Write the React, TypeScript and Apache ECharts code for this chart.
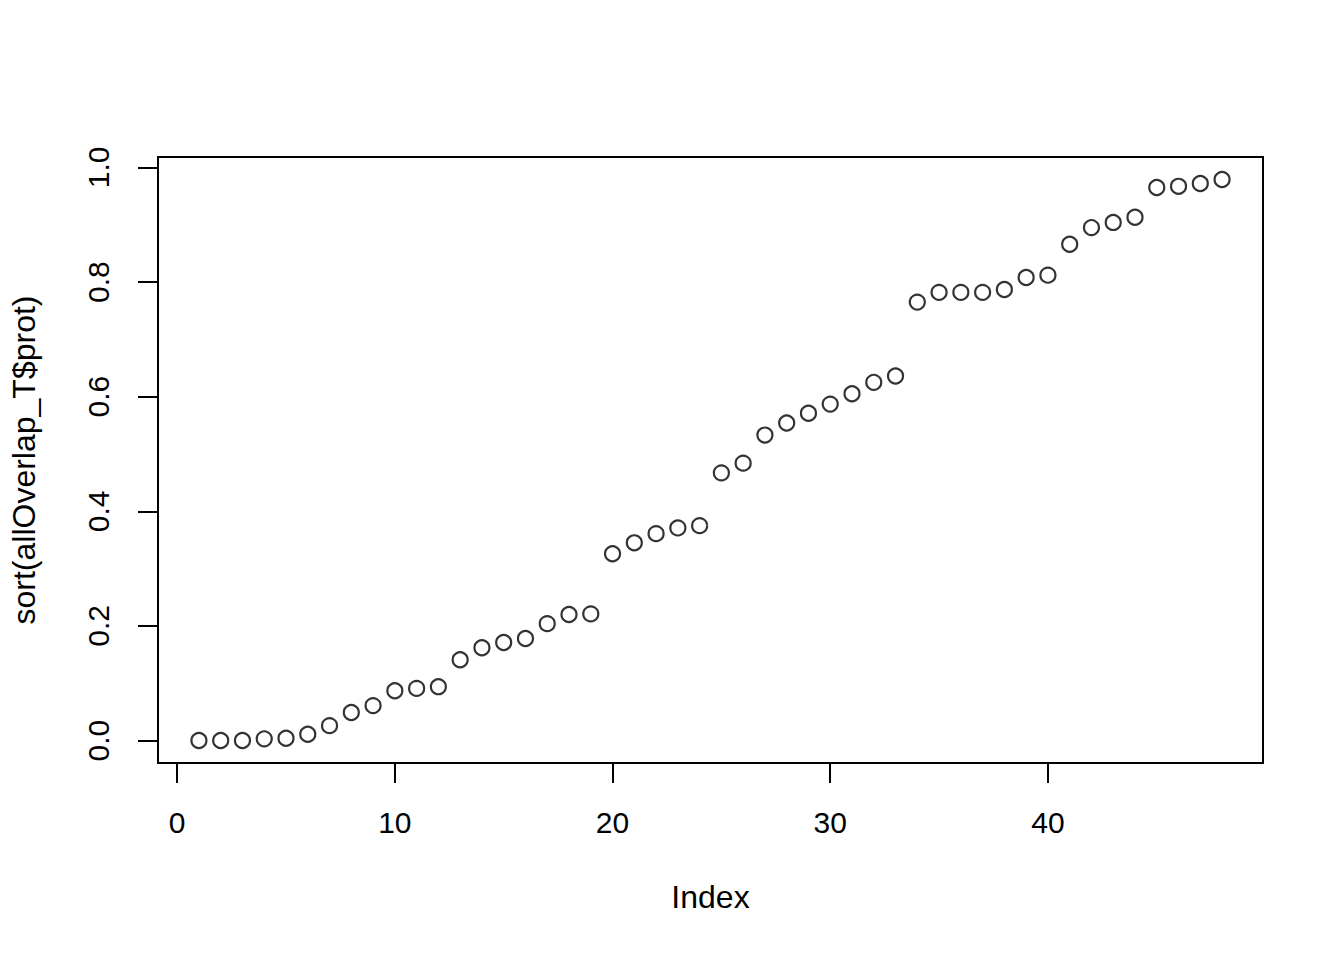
import React, { useEffect, useRef } from "react";
import * as echarts from "echarts";

const indexValues: number[] = Array.from({ length: 48 }, (_, i) => i + 1);
const protValues: number[] = [
  0.0, 0.0, 0.0, 0.003, 0.004, 0.011, 0.026, 0.049, 0.061, 0.087,
  0.091, 0.094, 0.141, 0.162, 0.171, 0.178, 0.204, 0.22, 0.221, 0.326,
  0.345, 0.361, 0.371, 0.375, 0.467, 0.484, 0.533, 0.554, 0.571, 0.587,
  0.605, 0.625, 0.636, 0.765, 0.782, 0.782, 0.782, 0.787, 0.808, 0.812,
  0.866, 0.895, 0.904, 0.913, 0.965, 0.967, 0.972, 0.979,
];
const xTicks: number[] = [0, 10, 20, 30, 40];
const yTicks: number[] = [0, 0.2, 0.4, 0.6, 0.8, 1.0];
const xTitle = "Index";
const yTitle = "sort(allOverlap_T$prot)";

const FONT = "'Liberation Sans', Arial, Helvetica, sans-serif";

function padRange(vals: number[]) {
  const lo = Math.min(...vals);
  const hi = Math.max(...vals);
  const p = (hi - lo) * 0.04;
  return [lo - p, hi + p];
}

export default function App() {
  const ref = useRef<HTMLDivElement>(null);
  useEffect(() => {
    if (!ref.current) return;
    const chart = echarts.init(ref.current, undefined, { renderer: "svg" });
    const [xMin, xMax] = padRange(indexValues);
    const [yMin, yMax] = padRange(protValues);
    chart.setOption({
      animation: false,
      backgroundColor: "#ffffff",
      grid: {
        left: 158,
        top: 157,
        right: 81,
        bottom: 197,
        show: true,
        borderColor: "#000",
        borderWidth: 2,
        backgroundColor: "transparent",
      },
      xAxis: {
        type: "value",
        min: xMin,
        max: xMax,
        name: xTitle,
        nameLocation: "middle",
        nameGap: 118,
        nameTextStyle: { fontFamily: FONT, fontSize: 32, color: "#000" },
        axisLine: { show: true, onZero: false, lineStyle: { color: "#000", width: 2 } },
        axisTick: {
          show: true,
          inside: false,
          length: 20,
          lineStyle: { color: "#000", width: 2 },
          customValues: xTicks,
        },
        axisLabel: {
          show: true,
          margin: 44,
          fontFamily: FONT,
          fontSize: 30,
          color: "#000",
          customValues: xTicks,
          formatter: (v: number) => String(Math.round(v)),
        },
        splitLine: { show: false },
      },
      yAxis: {
        type: "value",
        min: yMin,
        max: yMax,
        name: yTitle,
        nameLocation: "middle",
        nameGap: 118,
        nameRotate: 90,
        nameTextStyle: { fontFamily: FONT, fontSize: 32, color: "#000" },
        axisLine: { show: true, onZero: false, lineStyle: { color: "#000", width: 2 } },
        axisTick: {
          show: true,
          inside: false,
          length: 20,
          lineStyle: { color: "#000", width: 2 },
          customValues: yTicks,
        },
        axisLabel: {
          show: true,
          margin: 45,
          rotate: 90,
          fontFamily: FONT,
          fontSize: 30,
          color: "#000",
          customValues: yTicks,
          formatter: (v: number) => v.toFixed(1),
        },
        splitLine: { show: false },
      },
      series: [
        {
          type: "scatter",
          data: indexValues.map((x, i) => [x, protValues[i]]),
          symbol: "circle",
          symbolSize: 15,
          itemStyle: {
            color: "transparent",
            borderColor: "#000",
            borderWidth: 2.2,
          },
          emphasis: { disabled: true },
        },
      ],
    });
    return () => chart.dispose();
  }, []);
  return (
    <div
      ref={ref}
      style={{ position: "fixed", left: 0, top: 0, width: 1344, height: 960, background: "#fff" }}
    />
  );
}
